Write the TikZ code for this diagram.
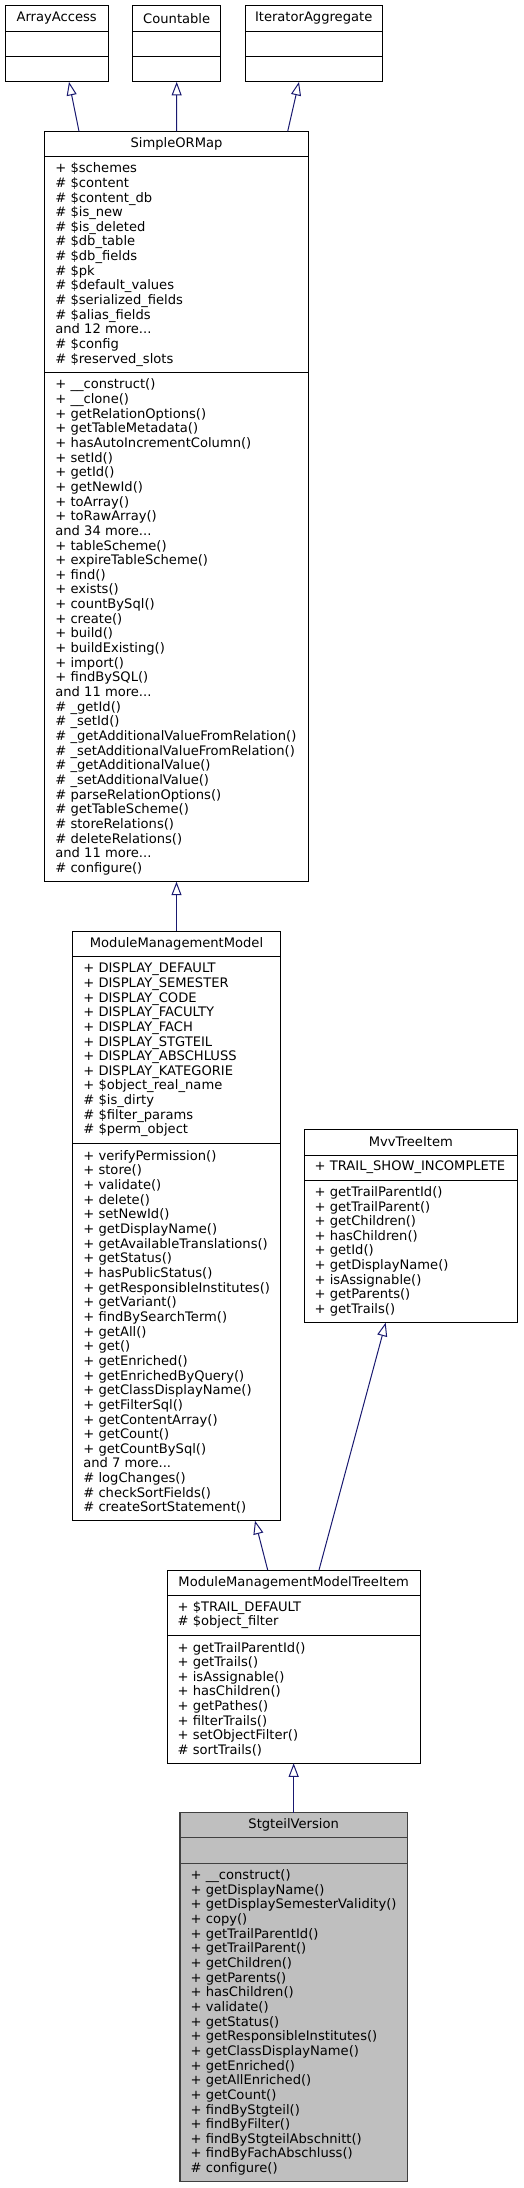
\documentclass[tikz,border=0pt]{standalone}
\usepackage{fontspec}
\setmainfont{DejaVu Sans}
\usetikzlibrary{positioning,arrows.meta}

\definecolor{edgeblue}{HTML}{191970}
\definecolor{curfill}{HTML}{BFBFBF}
\definecolor{curline}{HTML}{404040}

\tikzset{
    umlpart/.style={draw=black, line width=1pt, outer sep=0pt, inner sep=0pt, anchor=north west},
    members/.style={anchor=west, align=left, inner xsep=10.5pt, inner ysep=0pt},
    current/.style={fill=curfill, draw=curline, line width=1.3pt},
    inherits/.style={draw=edgeblue, line width=1pt, -{Triangle[open, length=13.5pt, width=10pt]}}
}

\begin{document}
\begin{tikzpicture}[x=1pt, y=1pt, font=\fontsize{13.1}{14.65}\selectfont]
        \useasboundingbox (0,0) rectangle (523,-2188);

        % Interfaces on top
        \node[umlpart, minimum width=103.3pt, minimum height=25.6pt] (aa) at (5,-5.7) {ArrayAccess};
        \node[umlpart, minimum width=103.3pt, minimum height=25.3pt, below=0pt of aa] (aa_attr) {};
        \node[umlpart, minimum width=103.3pt, minimum height=25.3pt, below=0pt of aa_attr] (aa_meth) {};

        \node[umlpart, minimum width=88pt, minimum height=25.6pt] (ct) at (132.7,-5.7) {Countable};
        \node[umlpart, minimum width=88pt, minimum height=25.3pt, below=0pt of ct] (ct_attr) {};
        \node[umlpart, minimum width=88pt, minimum height=25.3pt, below=0pt of ct_attr] (ct_meth) {};

        \node[umlpart, minimum width=137.3pt, minimum height=25.6pt] (ia) at (245,-5.7) {IteratorAggregate};
        \node[umlpart, minimum width=137.3pt, minimum height=25.3pt, below=0pt of ia] (ia_attr) {};
        \node[umlpart, minimum width=137.3pt, minimum height=25.3pt, below=0pt of ia_attr] (ia_meth) {};

        % SimpleORMap
        \node[umlpart, minimum width=263.6pt, minimum height=25.4pt] (sorm) at (44.7,-131.3) {SimpleORMap};
        \node[umlpart, minimum width=263.6pt, minimum height=215.6pt, below=0pt of sorm] (sorm_attr) {};
        \node[umlpart, minimum width=263.6pt, minimum height=509.4pt, below=0pt of sorm_attr] (sorm_meth) {};
        \node[members] (sorm_attr_list) at (sorm_attr.west) {+ \$schemes\\ \# \$content\\ \# \$content\_db\\ \# \$is\_new\\ \# \$is\_deleted\\ \# \$db\_table\\ \# \$db\_fields\\ \# \$pk\\ \# \$default\_values\\ \# \$serialized\_fields\\ \# \$alias\_fields\\ and 12 more...\\ \# \$config\\ \# \$reserved\_slots};
        \node[members] (sorm_meth_list) at (sorm_meth.west) {+ \_\_construct()\\ + \_\_clone()\\ + getRelationOptions()\\ + getTableMetadata()\\ + hasAutoIncrementColumn()\\ + setId()\\ + getId()\\ + getNewId()\\ + toArray()\\ + toRawArray()\\ and 34 more...\\ + tableScheme()\\ + expireTableScheme()\\ + find()\\ + exists()\\ + countBySql()\\ + create()\\ + build()\\ + buildExisting()\\ + import()\\ + findBySQL()\\ and 11 more...\\ \# \_getId()\\ \# \_setId()\\ \# \_getAdditionalValueFromRelation()\\ \# \_setAdditionalValueFromRelation()\\ \# \_getAdditionalValue()\\ \# \_setAdditionalValue()\\ \# parseRelationOptions()\\ \# getTableScheme()\\ \# storeRelations()\\ \# deleteRelations()\\ and 11 more...\\ \# configure()};

        % ModuleManagementModel
        \node[umlpart, minimum width=207.6pt, minimum height=25.7pt] (mmm) at (72.7,-931) {ModuleManagementModel};
        \node[umlpart, minimum width=207.6pt, minimum height=186.6pt, below=0pt of mmm] (mmm_attr) {};
        \node[umlpart, minimum width=207.6pt, minimum height=377.4pt, below=0pt of mmm_attr] (mmm_meth) {};
        \node[members] (mmm_attr_list) at (mmm_attr.west) {+ DISPLAY\_DEFAULT\\ + DISPLAY\_SEMESTER\\ + DISPLAY\_CODE\\ + DISPLAY\_FACULTY\\ + DISPLAY\_FACH\\ + DISPLAY\_STGTEIL\\ + DISPLAY\_ABSCHLUSS\\ + DISPLAY\_KATEGORIE\\ + \$object\_real\_name\\ \# \$is\_dirty\\ \# \$filter\_params\\ \# \$perm\_object};
        \node[members] (mmm_meth_list) at (mmm_meth.west) {+ verifyPermission()\\ + store()\\ + validate()\\ + delete()\\ + setNewId()\\ + getDisplayName()\\ + getAvailableTranslations()\\ + getStatus()\\ + hasPublicStatus()\\ + getResponsibleInstitutes()\\ + getVariant()\\ + findBySearchTerm()\\ + getAll()\\ + get()\\ + getEnriched()\\ + getEnrichedByQuery()\\ + getClassDisplayName()\\ + getFilterSql()\\ + getContentArray()\\ + getCount()\\ + getCountBySql()\\ and 7 more...\\ \# logChanges()\\ \# checkSortFields()\\ \# createSortStatement()};

        % MvvTreeItem
        \node[umlpart, minimum width=213.7pt, minimum height=26pt] (mvv) at (304,-1129) {MvvTreeItem};
        \node[umlpart, minimum width=213.7pt, minimum height=25pt, below=0pt of mvv] (mvv_attr) {};
        \node[umlpart, minimum width=213.7pt, minimum height=142.7pt, below=0pt of mvv_attr] (mvv_meth) {};
        \node[members] (mvv_attr_list) at (mvv_attr.west) {+ TRAIL\_SHOW\_INCOMPLETE};
        \node[members] (mvv_meth_list) at (mvv_meth.west) {+ getTrailParentId()\\ + getTrailParent()\\ + getChildren()\\ + hasChildren()\\ + getId()\\ + getDisplayName()\\ + isAssignable()\\ + getParents()\\ + getTrails()};

        % ModuleManagementModelTreeItem
        \node[umlpart, minimum width=253.3pt, minimum height=25.3pt] (mmmti) at (167,-1570) {ModuleManagementModelTreeItem};
        \node[umlpart, minimum width=253.3pt, minimum height=39.7pt, below=0pt of mmmti] (mmmti_attr) {};
        \node[umlpart, minimum width=253.3pt, minimum height=128.3pt, below=0pt of mmmti_attr] (mmmti_meth) {};
        \node[members] (mmmti_attr_list) at (mmmti_attr.west) {+ \$TRAIL\_DEFAULT\\ \# \$object\_filter};
        \node[members] (mmmti_meth_list) at (mmmti_meth.west) {+ getTrailParentId()\\ + getTrails()\\ + isAssignable()\\ + hasChildren()\\ + getPathes()\\ + filterTrails()\\ + setObjectFilter()\\ \# sortTrails()};

        % StgteilVersion (the class itself)
        \node[umlpart, current, minimum width=227.3pt, minimum height=25pt] (sv) at (180,-1812.7) {StgteilVersion};
        \node[umlpart, current, minimum width=227.3pt, minimum height=25.6pt, below=0pt of sv] (sv_attr) {};
        \node[umlpart, current, minimum width=227.3pt, minimum height=318.4pt, below=0pt of sv_attr] (sv_meth) {};
        \node[members] (sv_meth_list) at (sv_meth.west) {+ \_\_construct()\\ + getDisplayName()\\ + getDisplaySemesterValidity()\\ + copy()\\ + getTrailParentId()\\ + getTrailParent()\\ + getChildren()\\ + getParents()\\ + hasChildren()\\ + validate()\\ + getStatus()\\ + getResponsibleInstitutes()\\ + getClassDisplayName()\\ + getEnriched()\\ + getAllEnriched()\\ + getCount()\\ + findByStgteil()\\ + findByFilter()\\ + findByStgteilAbschnitt()\\ + findByFachAbschluss()\\ \# configure()};

        % Inheritance
        \draw[inherits] ([xshift=34.3pt]sorm.north west) -- ([xshift=64pt]aa_meth.south west);
        \draw[inherits] (sorm.north) -- (ct_meth.south);
        \draw[inherits] ([xshift=243pt]sorm.north west) -- ([xshift=54pt]ia_meth.south west);
        \draw[inherits] (mmm.north) -- (sorm_meth.south);
        \draw[inherits] ([xshift=100.7pt]mmmti.north west) -- ([xshift=182.3pt]mmm_meth.south west);
        \draw[inherits] ([xshift=152pt]mmmti.north west) -- ([xshift=81.7pt]mvv_meth.south west);
        \draw[inherits] (sv.north) -- (mmmti_meth.south);

    \end{tikzpicture}
\end{document}
